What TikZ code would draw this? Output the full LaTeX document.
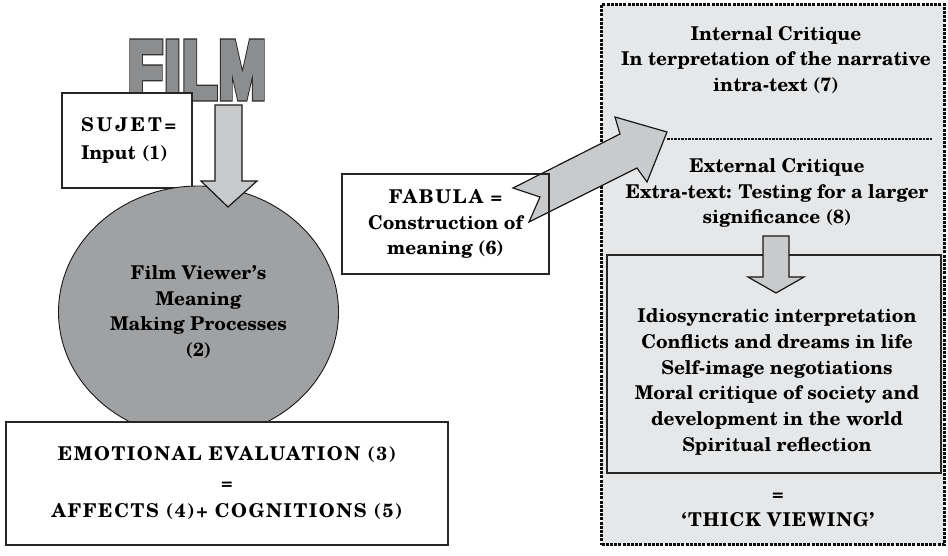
\documentclass[tikz,border=0pt]{standalone}
\usepackage{fontspec}
\setmainfont{texgyreschola-bold.otf}
\newfontfamily\filmfont{Liberation Sans}[UprightFont=* Bold, LetterSpace=4]
\usetikzlibrary{shapes.geometric}
\definecolor{filmgray}{RGB}{140,141,143}
\definecolor{circlegray}{RGB}{160,161,163}
\definecolor{arrowgray}{RGB}{201,202,204}
\definecolor{panelgray}{RGB}{230,231,233}
\newcommand{\caps}[2][10]{{\addfontfeature{LetterSpace=#1}#2}}
\newcommand{\filmword}[1]{\rlap{\color{black!85}\special{pdf:literal direct 2 Tr 8 w 2 M}#1}%
  {\color{filmgray}\special{pdf:literal direct 2 Tr 5.5 w 2 M}#1}\special{pdf:literal direct 0 Tr}}
\tikzset{
  every node/.style={font=\fontsize{19}{25.7}\selectfont},
  box/.style={draw=black!85, line width=1.3pt, align=center, inner sep=0pt},
  panelbox/.style={draw=black!95, fill=panelgray, line width=3pt,
    dash pattern=on 3pt off 1.2pt, inner sep=0pt},
  sepline/.style={draw=black!90, line width=1.3pt, dash pattern=on 2.6pt off 0.9pt},
  blockarrow/.style={draw=black!90, fill=arrowgray, line width=1.2pt, line join=miter},
}
\begin{document}
\begin{tikzpicture}[x=1pt,y=-1pt]
  \useasboundingbox (0,0) rectangle (948,555);
  % right panel
  \node[panelbox, minimum width=343, minimum height=540] (panel) at (773,274.5) {};
  \coordinate (sepl) at (667,139);
  \coordinate (sepr) at (932,139);
  \draw[sepline] (sepl) -- (sepr);
  \node[align=center] (internal) at (776,60)
    {Internal Critique\\In terpretation of the narrative\\intra-text (7)};
  \node[align=center] (external) at (777,193)
    {External Critique\\Extra-text: Testing for a larger\\significance (8)};
  \node[box, fill=panelgray, minimum width=334, minimum height=218] (listbox) at (774,364) {};
  \draw[blockarrow] (763,236) -- (789,236) -- (789,277) -- (804,277) -- (776,293)
    -- (748,277) -- (763,277) -- cycle;
  \node[align=center] (ideas) at (777,382)
    {Idiosyncratic interpretation\\Conflicts and dreams in life\\Self-image negotiations\\
     Moral critique of society and\\development in the world\\Spiritual reflection};
  \node[align=center] (thick) at (778,510) {=\\\caps[5]{`THICK VIEWING'}};
  % left side
  \node[inner sep=0pt, xscale=0.7, font=\filmfont\fontsize{80}{80}\selectfont]
    (film) at (197,70) {\filmword{FILM}};
  \node[box, fill=white, align=left, text width=92, inner xsep=19,
    minimum height=95, font=\fontsize{19}{28}\selectfont] (sujet) at (127,140.5)
    {\caps[15.5]{SUJET=}\\Input (1)};
  \node[ellipse, draw=black!90, fill=circlegray, line width=0.9pt, inner sep=0pt,
    minimum width=280, minimum height=252, align=center] (viewer) at (198.5,312)
    {Film Viewer’s\\Meaning\\Making Processes\\(2)};
  \draw[blockarrow] (215,105) -- (242,105) -- (242,181) -- (257,181) -- (228,207)
    -- (201,181) -- (215,181) -- cycle;
  \node[box, fill=white, minimum width=442, minimum height=123,
    font=\fontsize{19}{28.5}\selectfont] (emotion) at (227,483.5)
    {\caps[8.5]{EMOTIONAL EVALUATION (3)}\\=\\\caps[8.5]{AFFECTS (4)+ COGNITIONS (5)}};
  % big arrow to the critiques
  \draw[blockarrow] (513,188) -- (620,134) -- (615,117) -- (667,132) -- (647,182)
    -- (637,168) -- (529,222) -- (540,197) -- cycle;
  \node[box, minimum width=207, minimum height=100] (fabula) at (445.5,224)
    {\caps[9]{FABULA =}\\Construction of\\meaning (6)};
\end{tikzpicture}
\end{document}
